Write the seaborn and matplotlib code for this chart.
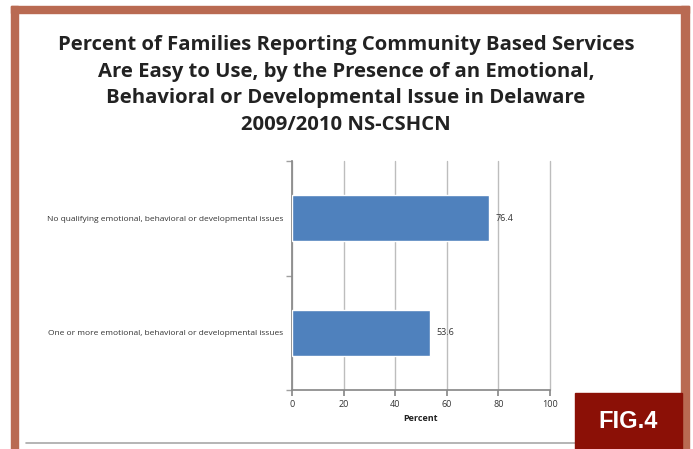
import matplotlib
matplotlib.use("Agg")
import matplotlib.pyplot as plt
import seaborn as sns
import pandas as pd
from matplotlib.patches import Rectangle
from matplotlib.lines import Line2D

categories = [
    "No qualifying emotional, behavioral or developmental issues",
    "One or more emotional, behavioral or developmental issues",
]
percent = [76.4, 53.6]
x_ticks = [0, 20, 40, 60, 80, 100]

title = ("Percent of Families Reporting Community Based Services\n"
         "Are Easy to Use, by the Presence of an Emotional,\n"
         "Behavioral or Developmental Issue in Delaware\n"
         "2009/2010 NS-CSHCN")

df = pd.DataFrame({"group": categories, "percent": percent})

sns.set_theme(style="white")
plt.rcParams["font.family"] = ["Open Sans", "DejaVu Sans"]

W, H = 693, 449
fig = plt.figure(figsize=(W / 100, H / 100), dpi=100)
fig.patch.set_facecolor("white")

def fx(px):
    return px / W

def fy(py):
    return 1 - py / H

# Frame around the page
frame_col = "#B96A52"
fig.patches.append(Rectangle((fx(11), 0), fx(7), fy(6), transform=fig.transFigure,
                             color=frame_col, zorder=0))
fig.patches.append(Rectangle((fx(11), fy(13)), fx(678), fy(6) - fy(13),
                             transform=fig.transFigure, color=frame_col, zorder=0))
fig.patches.append(Rectangle((fx(681), 0), fx(8), fy(6), transform=fig.transFigure,
                             color=frame_col, zorder=0))

# Bottom rule and figure tag
fig.lines.append(Line2D([fx(26), fx(576)], [fy(443), fy(443)], transform=fig.transFigure,
                        color="#A8A8A8", lw=1.2))
fig.patches.append(Rectangle((fx(575), 0), fx(107), fy(393), transform=fig.transFigure,
                             color="#8B1006", zorder=2))
fig.text(fx(628), fy(421), "FIG.4", ha="center", va="center", color="white",
         fontsize=17, fontweight="bold", family=["Liberation Sans", "DejaVu Sans"], zorder=3)

fig.text(fx(346), fy(85), title, ha="center", va="center", fontsize=14.6,
         fontweight="bold", color="#222222", linespacing=1.45)

ax = fig.add_axes([fx(292), fy(390), fx(550) - fx(292), fy(161) - fy(390)])
sns.barplot(data=df, x="percent", y="group", orient="h", color="#4F81BD",
            width=0.4, saturation=1, ax=ax, zorder=3)

ax.set_xlim(0, 100)
ax.set_ylim(1.5, -0.5)
ax.set_xticks(x_ticks)
ax.set_xticklabels([str(t) for t in x_ticks])
ax.grid(axis="x", color="#BDBDBD", lw=1)
for gl in ax.get_xgridlines():
    gl.set_clip_on(False)
ax.set_axisbelow(True)
for side in ["top", "right"]:
    ax.spines[side].set_visible(False)
ax.spines["left"].set_color("#8A8A8A")
ax.spines["bottom"].set_color("#8A8A8A")
ax.set_yticks([-0.5, 0.5, 1.5], minor=True)
ax.set_yticks([0, 1])
ax.tick_params(axis="y", which="major", length=0, pad=6, labelsize=6.0, labelcolor="#333333")
ax.tick_params(axis="y", which="minor", length=4, color="#A0A0A0", direction="out", left=True)
ax.tick_params(axis="x", length=4, color="#8A8A8A", direction="out", bottom=True,
               labelsize=6.5, labelcolor="#333333", pad=3)
ax.set_ylabel("")
ax.set_xlabel("Percent", fontsize=6.5, fontweight="bold", color="#222222", labelpad=4)

for i, v in enumerate(percent):
    ax.text(v + 2.3, i, f"{v}", va="center", ha="left", fontsize=6.5, color="#333333")

fig.savefig("out.png", dpi=100)
